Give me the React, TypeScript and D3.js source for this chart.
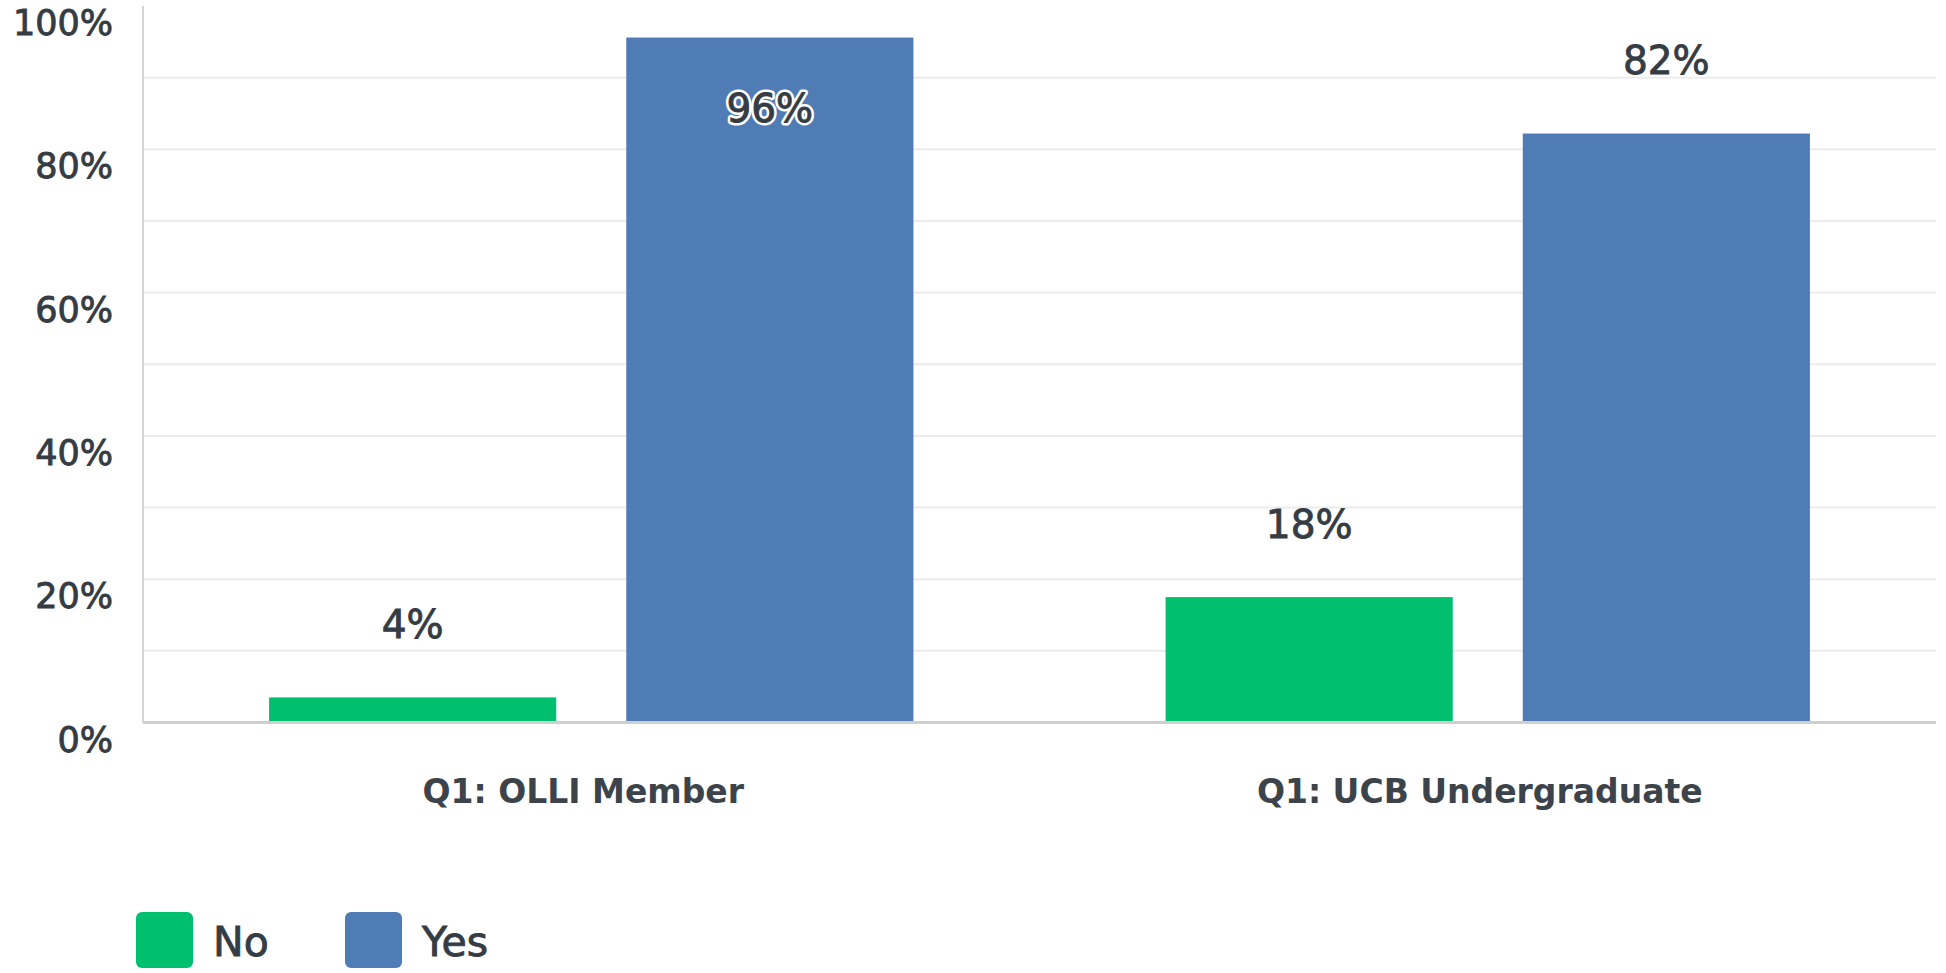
import React from "react";
import * as d3 from "d3";

const categories = ["Q1: OLLI Member", "Q1: UCB Undergraduate"];
const series = ["No", "Yes"];
const noValues = [3.5, 17.5];
const yesValues = [95.6, 82.2];
const yTicks = [0, 20, 40, 60, 80, 100];
const gridTicks = [10, 20, 30, 40, 50, 60, 70, 80, 90];

const colors: Record<string, string> = { No: "#00bf6f", Yes: "#507cb6" };
const textColor = "#353c43";
const FONT = "'DejaVu Sans', sans-serif";

export default function App() {
  const W = 1946;
  const H = 973;
  const left = 143;
  const right = 1936;
  const top = 6;
  const bottom = 722.5;

  const x = d3.scaleBand<string>().domain(categories).range([left, right]).paddingInner(0).paddingOuter(0);
  const xs = d3
    .scaleBand<string>()
    .domain(series)
    .range([0, x.bandwidth()])
    .paddingInner(0.196)
    .paddingOuter(0.353);
  const y = d3.scaleLinear().domain([0, 100]).range([bottom, top]);

  const valuesBySeries: Record<string, number[]> = { No: noValues, Yes: yesValues };

  const bars: { cat: string; s: string; v: number }[] = [];
  categories.forEach((c, i) => {
    series.forEach((s) => bars.push({ cat: c, s, v: valuesBySeries[s][i] }));
  });

  const heavy = { stroke: textColor, strokeWidth: 0.9 };

  return (
    <svg
      width={W}
      height={H}
      style={{ position: "absolute", left: 0, top: 0, background: "#fff" }}
      fontFamily={FONT}
    >
      {gridTicks.map((t) => (
        <line key={t} x1={left} x2={right} y1={y(t)} y2={y(t)} stroke="#ececec" strokeWidth={2} />
      ))}
      <line x1={left} x2={left} y1={top} y2={bottom} stroke="#d4d4d4" strokeWidth={2} />
      {yTicks.map((t) => (
        <text
          key={t}
          x={113}
          y={y(t) + 17}
          textAnchor="end"
          dominantBaseline="central"
          fontSize={35}
          fill={textColor}
          {...heavy}
        >
          {t}%
        </text>
      ))}
      {bars.map((b) => {
        const bx = (x(b.cat) as number) + (xs(b.s) as number);
        const by = y(b.v);
        const inside = by - 73 < 40;
        const ly = inside ? by + 71 : by - 73;
        const cx = bx + xs.bandwidth() / 2;
        const label = `${Math.round(b.v)}%`;
        return (
          <g key={b.cat + b.s}>
            <rect x={bx} y={by} width={xs.bandwidth()} height={bottom - by} fill={colors[b.s]} />
            {inside && (
              <text
                x={cx}
                y={ly}
                textAnchor="middle"
                dominantBaseline="central"
                fontSize={39}
                fill="#ffffff"
                stroke="#ffffff"
                strokeWidth={6}
                strokeLinejoin="round"
              >
                {label}
              </text>
            )}
            <text
              x={cx}
              y={ly}
              textAnchor="middle"
              dominantBaseline="central"
              fontSize={39}
              fill={textColor}
              {...heavy}
            >
              {label}
            </text>
          </g>
        );
      })}
      <line x1={left} x2={right} y1={bottom} y2={bottom} stroke="#cfcfcf" strokeWidth={3} />
      {categories.map((c) => (
        <text
          key={c}
          x={(x(c) as number) + x.bandwidth() / 2 - 8}
          y={791}
          textAnchor="middle"
          dominantBaseline="central"
          fontSize={33}
          fontWeight={700}
          fill="#3d434a"
        >
          {c}
        </text>
      ))}
      {series.map((s, i) => {
        const lx = 136 + i * 209;
        return (
          <g key={s}>
            <rect x={lx} y={912} width={57} height={56} rx={6} fill={colors[s]} />
            <text
              x={lx + 77}
              y={942}
              dominantBaseline="central"
              fontSize={41}
              fill={textColor}
              {...heavy}
            >
              {s}
            </text>
          </g>
        );
      })}
    </svg>
  );
}
